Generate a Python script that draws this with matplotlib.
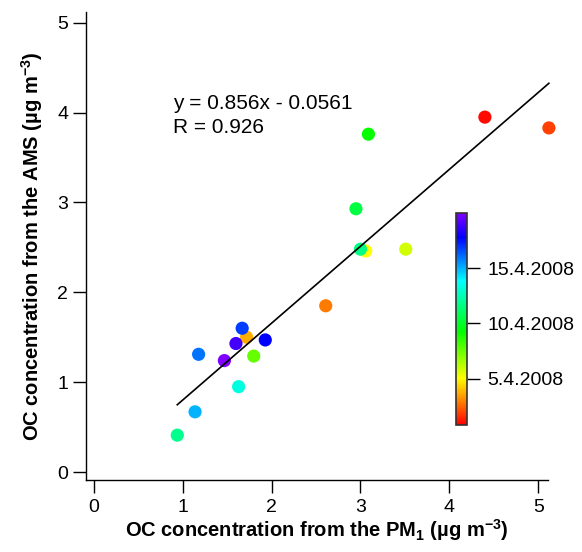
import matplotlib
matplotlib.use("Agg")
import matplotlib.pyplot as plt
import numpy as np
from matplotlib.colors import LinearSegmentedColormap

plt.rcParams['font.family'] = ['Liberation Sans', 'DejaVu Sans']
plt.rcParams['mathtext.fontset'] = 'custom'
plt.rcParams['mathtext.rm'] = 'Liberation Sans'
plt.rcParams['mathtext.default'] = 'regular'

# jour d'avril 2008 (ordre chronologique), OC filtre PM1, OC AMS
day = [1.0, 1.86, 2.9, 3.7, 5.0, 5.8, 7.6, 9.2, 10.4, 11.6, 11.8, 13.3, 15.0, 16.0, 16.8, 17.8, 18.9, 20.0]
oc_pm1 = [4.40, 5.12, 2.61, 1.72, 3.06, 3.51, 1.80, 3.09, 2.95, 3.00, 0.94, 1.63, 1.14, 1.18, 1.67, 1.93, 1.60, 1.47]
oc_ams = [3.95, 3.83, 1.85, 1.50, 2.46, 2.48, 1.29, 3.76, 2.93, 2.48, 0.41, 0.95, 0.67, 1.31, 1.60, 1.47, 1.43, 1.24]

slope, intercept, r = 0.856, -0.0561, 0.926
cbar_ticks = [5, 10, 15]
cbar_labels = ['5.4.2008', '10.4.2008', '15.4.2008']

# palette arc-en-ciel (rouge -> violet)
rainbow = LinearSegmentedColormap.from_list('rainbow_igor', [
    (0.0, '#ff0000'), (0.22, '#ffff00'), (0.44, '#00ff00'),
    (0.68, '#00ffff'), (0.885, '#0000ff'), (1.0, '#8000ff')])

fig = plt.figure(figsize=(5.82, 5.52), dpi=100)
ax = fig.add_axes([85.7 / 582, 72 / 552, (548 - 85.7) / 582, (480 - 12) / 552])

sc = ax.scatter(oc_pm1, oc_ams, c=day, cmap=rainbow, vmin=0.8, vmax=20.0,
                s=90, linewidths=0, zorder=2, clip_on=False)

xl = np.array([min(oc_pm1), max(oc_pm1)])
ax.plot(xl, slope * xl + intercept, color='black', lw=1.2, zorder=3, clip_on=False)

txt = ['y = %.3fx - %.4f' % (slope, -intercept), 'R = %.3f' % r]
ax.text(0.89, 4.10, txt[0], fontsize=15, va='center', ha='left')
ax.text(0.89, 3.83, txt[1], fontsize=15, va='center', ha='left')

ax.set_xlim(-0.09, 5.11)
ax.set_ylim(-0.089, 5.12)
ax.set_xticks(range(6))
ax.set_yticks(range(6))
ax.spines['top'].set_visible(False)
ax.spines['right'].set_visible(False)
for s in ['left', 'bottom']:
    ax.spines[s].set_linewidth(1.0)
ax.tick_params(direction='out', length=9.5, width=1.0, labelsize=14)
ax.tick_params(axis='x', pad=4)
ax.tick_params(axis='y', pad=3)

ax.set_xlabel('OC concentration from the PM$_1$ (µg m$^{-3}$)', fontsize=14.5,
              fontweight='bold', labelpad=1)
ax.set_ylabel('OC concentration from the AMS (µg m$^{-3}$)', fontsize=14.5,
              fontweight='bold', labelpad=9)

cax = fig.add_axes([456 / 582, (552 - 425) / 552, 11 / 582, 212 / 552])
cb = fig.colorbar(sc, cax=cax)
cb.set_ticks(cbar_ticks)
cb.set_ticklabels(cbar_labels)
cb.outline.set_linewidth(1.2)
cb.outline.set_edgecolor('#333333')
cax.tick_params(direction='out', length=9.5, width=1.0, labelsize=14, pad=5)

fig.savefig('out.png', dpi=100)
